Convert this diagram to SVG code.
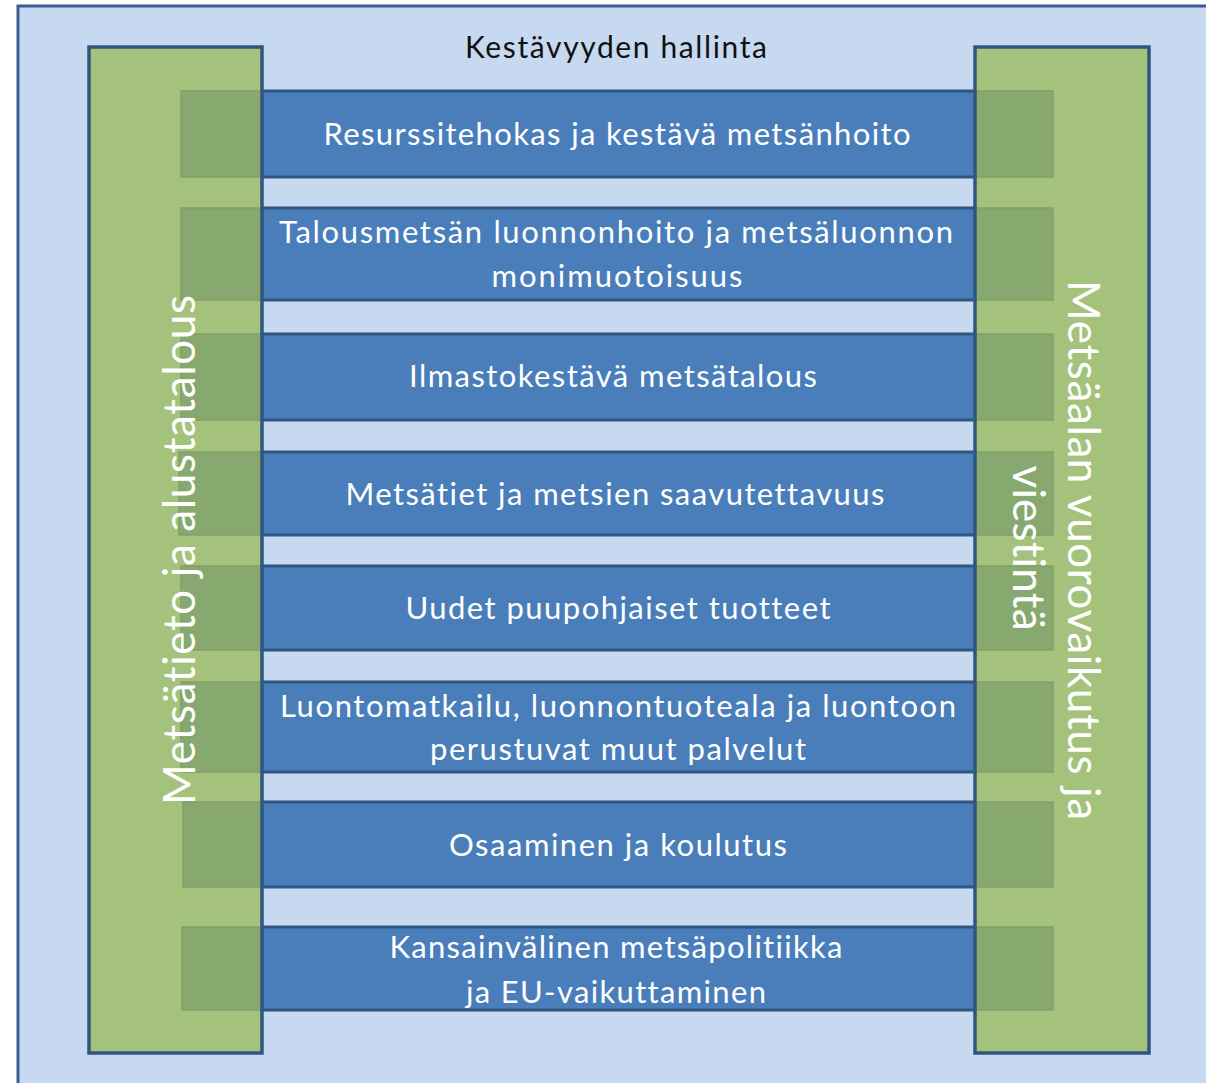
<svg xmlns="http://www.w3.org/2000/svg" width="1206" height="1083" viewBox="0 0 1206 1083">
<style>
.bg{fill:#C6D9F1;stroke:#3A5F8F;stroke-width:3}
.bar{fill:#4A7EBB;stroke:#30557F;stroke-width:3}
.col{fill:#A5C27D}
.colb{fill:none;stroke:#30557F;stroke-width:3.5}
.sq{fill:#87A96F;stroke:#7FA068;stroke-width:1.5}
text{font-family:Lato,"Open Sans","Liberation Sans",sans-serif;font-variant-ligatures:none;text-anchor:middle}
.t{font-size:31px;fill:#FFFFFF}
.title{font-size:30px;fill:#111111}
.v{font-size:44px;fill:#FFFFFF}
</style>
<rect class="bg" x="18" y="6" width="1220" height="1100"/>
<g id="title"><text class="title" x="616" y="58" textLength="302">Kestävyyden hallinta</text></g>
<g id="bars">
<g id="bar1"><rect class="bar" x="230" y="91" width="780" height="86"/><text class="t" x="617" y="145" textLength="587">Resurssitehokas ja kestävä metsänhoito</text></g>
<g id="bar2"><rect class="bar" x="230" y="208" width="780" height="92"/><text class="t" x="616" y="243" textLength="674">Talousmetsän luonnonhoito ja metsäluonnon</text><text class="t" x="617" y="287" textLength="251">monimuotoisuus</text></g>
<g id="bar3"><rect class="bar" x="230" y="334" width="780" height="86"/><text class="t" x="613" y="387" textLength="408">Ilmastokestävä metsätalous</text></g>
<g id="bar4"><rect class="bar" x="230" y="452" width="780" height="83"/><text class="t" x="615" y="505" textLength="539">Metsätiet ja metsien saavutettavuus</text></g>
<g id="bar5"><rect class="bar" x="230" y="566" width="780" height="84"/><text class="t" x="618" y="619" textLength="425">Uudet puupohjaiset tuotteet</text></g>
<g id="bar6"><rect class="bar" x="230" y="682" width="780" height="90"/><text class="t" x="618" y="717" textLength="676">Luontomatkailu, luonnontuoteala ja luontoon</text><text class="t" x="618" y="760" textLength="376">perustuvat muut palvelut</text></g>
<g id="bar7"><rect class="bar" x="230" y="802" width="780" height="85"/><text class="t" x="618" y="856" textLength="338">Osaaminen ja koulutus</text></g>
<g id="bar8"><rect class="bar" x="230" y="927" width="780" height="83"/><text class="t" x="616" y="958" textLength="453">Kansainvälinen metsäpolitiikka</text><text class="t" x="616" y="1003" textLength="300">ja EU-vaikuttaminen</text></g>
</g>
<g id="left-column">
<rect class="col" x="89" y="47" width="173" height="1006"/>
<rect class="sq" x="181" y="91" width="81" height="86"/>
<rect class="sq" x="181" y="208" width="81" height="92"/>
<rect class="sq" x="181" y="334" width="81" height="86"/>
<rect class="sq" x="179" y="452" width="83" height="83"/>
<rect class="sq" x="181" y="566" width="81" height="84"/>
<rect class="sq" x="181" y="682" width="81" height="90"/>
<rect class="sq" x="183" y="802" width="79" height="85"/>
<rect class="sq" x="182" y="927" width="80" height="83"/>
<rect class="colb" x="89" y="47" width="173" height="1006"/>
<text class="v" transform="translate(195,550) rotate(-90)" x="0" y="0" textLength="510">Metsätieto ja alustatalous</text>
</g>
<g id="right-column">
<rect class="col" x="975" y="47" width="174" height="1006"/>
<rect class="sq" x="975" y="91" width="78" height="86"/>
<rect class="sq" x="975" y="208" width="78" height="92"/>
<rect class="sq" x="975" y="334" width="78" height="86"/>
<rect class="sq" x="975" y="452" width="78" height="83"/>
<rect class="sq" x="975" y="566" width="78" height="84"/>
<rect class="sq" x="975" y="682" width="78" height="90"/>
<rect class="sq" x="975" y="802" width="78" height="85"/>
<rect class="sq" x="975" y="927" width="78" height="83"/>
<rect class="colb" x="975" y="47" width="174" height="1006"/>
<text class="v" transform="translate(1068,550) rotate(90)" x="0" y="0" textLength="540">Metsäalan vuorovaikutus ja</text>
<text class="v" transform="translate(1013,548) rotate(90)" x="0" y="0" textLength="165">viestintä</text>
</g>
</svg>
